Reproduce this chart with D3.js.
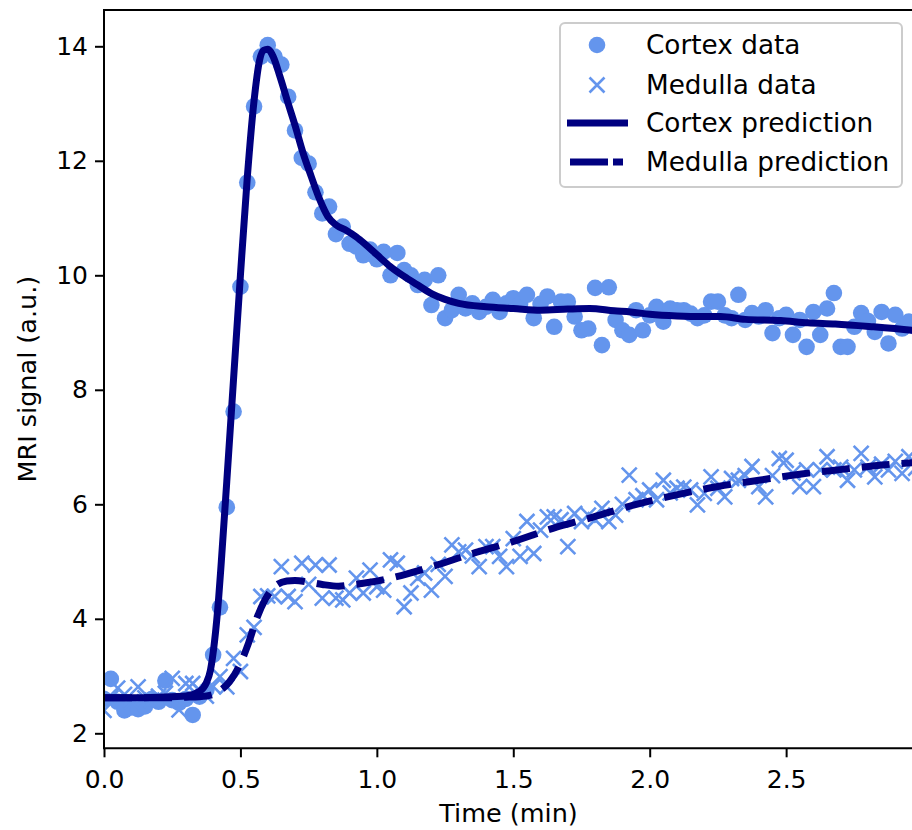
<!DOCTYPE html>
<html lang="en">
<head>
  <meta charset="UTF-8">
  <title>MRI signal</title>
  <style>
    body { margin: 0; background: #fff; }
    text { font-family: "DejaVu Sans", sans-serif; }
  </style>
</head>
<body>
  <script src="https://d3js.org/d3.v7.min.js"></script>
  <script>
    // sample times (min)
    const times = [0.000,0.025,0.050,0.075,0.100,0.125,0.150,0.175,0.200,0.225,
      0.250,0.275,0.300,0.325,0.350,0.375,0.400,0.425,0.450,0.475,
      0.500,0.525,0.550,0.575,0.600,0.625,0.650,0.675,0.700,0.725,
      0.750,0.775,0.800,0.825,0.850,0.875,0.900,0.925,0.950,0.975,
      1.000,1.025,1.050,1.075,1.100,1.125,1.150,1.175,1.200,1.225,
      1.250,1.275,1.300,1.325,1.350,1.375,1.400,1.425,1.450,1.475,
      1.500,1.525,1.550,1.575,1.600,1.625,1.650,1.675,1.700,1.725,
      1.750,1.775,1.800,1.825,1.850,1.875,1.900,1.925,1.950,1.975,
      2.000,2.025,2.050,2.075,2.100,2.125,2.150,2.175,2.200,2.225,
      2.250,2.275,2.300,2.325,2.350,2.375,2.400,2.425,2.450,2.475,
      2.500,2.525,2.550,2.575,2.600,2.625,2.650,2.675,2.700,2.725,
      2.750,2.775,2.800,2.825,2.850,2.875,2.900,2.925,2.950,2.975]

    const cortexData = [2.60,2.95,2.55,2.40,2.45,2.42,2.47,2.60,2.55,2.92,
      2.58,2.53,2.60,2.32,2.64,2.75,3.37,4.20,5.95,7.62,
      9.80,11.62,12.95,13.82,14.02,13.82,13.68,13.12,12.53,12.05,
      11.95,11.45,11.08,11.20,10.72,10.85,10.55,10.50,10.35,10.45,
      10.28,10.41,10.00,10.39,10.09,10.00,9.83,9.92,9.48,10.00,
      9.25,9.39,9.66,9.42,9.51,9.36,9.45,9.57,9.36,9.51,
      9.60,9.50,9.66,9.25,9.50,9.63,9.10,9.54,9.54,9.28,
      9.04,9.07,9.78,8.78,9.79,9.22,9.04,8.96,9.39,9.04,
      9.30,9.45,9.19,9.42,9.39,9.39,9.33,9.25,9.30,9.54,
      9.54,9.30,9.25,9.66,9.22,9.34,9.28,9.39,8.99,9.25,
      9.31,8.96,9.22,8.75,9.36,8.96,9.42,9.69,8.75,8.75,
      9.10,9.34,9.20,9.01,9.36,8.81,9.31,9.07,9.19,9.10]

    const medullaData = [2.40,2.62,2.79,2.68,2.55,2.81,2.62,2.58,2.65,2.70,
      2.96,2.41,2.87,2.87,2.75,2.65,2.82,2.99,2.81,3.31,
      3.08,3.72,3.85,4.39,4.40,4.39,4.91,4.39,4.30,4.97,
      4.60,4.94,4.36,4.94,4.36,4.33,4.45,4.71,4.45,4.85,
      4.56,4.50,5.03,4.97,4.21,4.45,4.71,4.80,4.50,4.95,
      4.74,5.29,5.17,5.20,5.10,4.91,5.26,5.26,5.09,4.91,
      5.40,5.09,5.70,5.14,5.55,5.78,5.78,5.73,5.26,5.84,
      5.70,5.81,5.73,5.93,5.70,5.81,6.00,6.51,6.08,6.15,
      6.25,6.08,6.42,6.20,6.28,6.30,6.25,5.99,6.19,6.48,
      6.28,6.13,6.45,6.42,6.50,6.66,6.31,6.13,6.50,6.80,
      6.77,6.55,6.31,6.60,6.31,6.60,6.83,6.60,6.65,6.42,
      6.60,6.89,6.65,6.48,6.70,6.60,6.75,6.54,6.83,6.63]

    // model predictions
    const cortexPredT = [0,0.1,0.2,0.3,0.35,0.375,0.39,0.405,0.42,0.43,0.45,0.475,
      0.5,0.525,0.55,0.57,0.585,0.6,0.62,0.645,0.675,0.7,0.73,0.76,0.79,0.82,0.85,
      0.89,0.925,0.96,1.0,1.05,1.1,1.15,1.2,1.25,1.3,1.4,1.5,1.6,1.7,1.78,1.87,
      1.93,2.0,2.1,2.2,2.26,2.35,2.48,2.58,2.68,2.82,2.96,3.0]
    const cortexPred = [2.62,2.62,2.63,2.65,2.73,2.88,3.1,3.6,4.35,5.0,6.4,8.2,
      10.0,11.7,13.05,13.75,13.93,13.95,13.82,13.47,13.0,12.62,12.13,11.72,11.33,11.03,10.88,
      10.78,10.67,10.53,10.36,10.15,9.98,9.83,9.68,9.58,9.51,9.45,9.42,9.39,9.41,9.42,9.38,
      9.36,9.32,9.29,9.28,9.28,9.23,9.21,9.17,9.15,9.1,9.04,9.02]

    const medullaPredT = [0,0.2,0.3,0.35,0.4,0.43,0.46,0.5,0.53,0.56,0.59,0.63,0.67,
      0.7,0.75,0.8,0.86,0.9,0.95,1.05,1.2,1.35,1.5,1.645,1.795,1.944,2.094,2.25,
      2.4,2.556,2.706,2.862,3.0]
    const medullaPred = [2.62,2.62,2.63,2.64,2.68,2.76,2.9,3.22,3.58,4.01,4.33,4.58,4.66,
      4.67,4.64,4.6,4.57,4.59,4.62,4.71,4.91,5.14,5.35,5.58,5.78,5.99,6.16,6.31,
      6.42,6.53,6.61,6.69,6.74]

    const xTicks = [0, 0.5, 1.0, 1.5, 2.0, 2.5]
    const yTicks = [2, 4, 6, 8, 10, 12, 14]
    const legendLabels = ['Cortex data', 'Medulla data', 'Cortex prediction', 'Medulla prediction']

    const width = 912, height = 830
    const plotLeft = 104, plotTop = 10, plotBottom = 748.3, plotRight = 913
    const lightBlue = '#6495ed', navy = '#000080'

    const x = d3.scaleLinear().domain([0, 2.965]).range([plotLeft, plotRight])
    const y = d3.scaleLinear().domain([1.738, 14.634]).range([plotBottom, plotTop])

    const svg = d3.select('body').append('svg')
      .attr('width', width)
      .attr('height', height)

    svg.append('clipPath').attr('id', 'plot')
      .append('rect')
      .attr('x', plotLeft).attr('y', plotTop)
      .attr('width', plotRight - plotLeft).attr('height', plotBottom - plotTop)

    const plot = svg.append('g').attr('clip-path', 'url(#plot)')

    // cortex data
    plot.selectAll('circle.cortex')
      .data(times.map((t, i) => [t, cortexData[i]]))
      .enter()
      .append('circle')
      .attr('class', 'cortex')
      .attr('cx', d => x(d[0]))
      .attr('cy', d => y(d[1]))
      .attr('r', 8.3)
      .attr('fill', lightBlue)

    // medulla data
    const s = 7.5
    plot.selectAll('path.medulla')
      .data(times.map((t, i) => [t, medullaData[i]]))
      .enter()
      .append('path')
      .attr('class', 'medulla')
      .attr('d', d => {
        const cx = x(d[0]), cy = y(d[1])
        return `M${cx - s},${cy - s}L${cx + s},${cy + s}M${cx - s},${cy + s}L${cx + s},${cy - s}`
      })
      .attr('stroke', lightBlue)
      .attr('stroke-width', 2.6)
      .attr('fill', 'none')

    const line = d3.line()
      .x(d => x(d[0]))
      .y(d => y(d[1]))
      .curve(d3.curveMonotoneX)

    plot.append('path')
      .datum(cortexPredT.map((t, i) => [t, cortexPred[i]]))
      .attr('d', line)
      .attr('stroke', navy)
      .attr('stroke-width', 7)
      .attr('stroke-linejoin', 'round')
      .attr('fill', 'none')

    plot.append('path')
      .datum(medullaPredT.map((t, i) => [t, medullaPred[i]]))
      .attr('d', line)
      .attr('stroke', navy)
      .attr('stroke-width', 7)
      .attr('stroke-dasharray', '28,12')
      .attr('stroke-linejoin', 'round')
      .attr('fill', 'none')

    // axes
    const xAxis = svg.append('g')
      .attr('transform', `translate(0,${plotBottom})`)
      .call(d3.axisBottom(x).tickValues(xTicks).tickFormat(d3.format('.1f'))
        .tickSize(9).tickPadding(13).tickSizeOuter(0))
    const yAxis = svg.append('g')
      .attr('transform', `translate(${plotLeft},0)`)
      .call(d3.axisLeft(y).tickValues(yTicks).tickFormat(d3.format('d'))
        .tickSize(9).tickPadding(7).tickSizeOuter(0))

    ;[xAxis, yAxis].forEach(a => {
      a.select('.domain').remove()
      a.selectAll('line').attr('stroke', '#000').attr('stroke-width', 2)
      a.selectAll('text')
        .attr('fill', '#000')
        .style('font-size', '25px')
        .style('font-family', '"DejaVu Sans", sans-serif')
    })

    // spines
    svg.append('path')
      .attr('d', `M${plotRight},${plotTop}H${plotLeft}V${plotBottom}H${plotRight}`)
      .attr('stroke', '#000')
      .attr('stroke-width', 2)
      .attr('fill', 'none')

    svg.append('text')
      .attr('x', (plotLeft + plotRight) / 2)
      .attr('y', 822)
      .attr('text-anchor', 'middle')
      .style('font-size', '25.5px')
      .text('Time (min)')

    svg.append('text')
      .attr('transform', `translate(36,${(plotTop + plotBottom) / 2}) rotate(-90)`)
      .attr('text-anchor', 'middle')
      .style('font-size', '25.5px')
      .text('MRI signal (a.u.)')

    // legend
    const lg = svg.append('g')
    lg.append('rect')
      .attr('x', 560).attr('y', 23)
      .attr('width', 342).attr('height', 164)
      .attr('rx', 5)
      .attr('fill', 'white')
      .attr('fill-opacity', 0.8)
      .attr('stroke', '#cccccc')
      .attr('stroke-width', 2)

    const rowY = [45, 85, 123, 162]
    lg.append('circle').attr('cx', 597).attr('cy', rowY[0]).attr('r', 8.3).attr('fill', lightBlue)
    lg.append('path')
      .attr('d', `M${597 - s},${rowY[1] - s}L${597 + s},${rowY[1] + s}M${597 - s},${rowY[1] + s}L${597 + s},${rowY[1] - s}`)
      .attr('stroke', lightBlue).attr('stroke-width', 2.6)
    lg.append('line')
      .attr('x1', 567).attr('x2', 628).attr('y1', rowY[2]).attr('y2', rowY[2])
      .attr('stroke', navy).attr('stroke-width', 7)
    lg.append('line')
      .attr('x1', 570).attr('x2', 623).attr('y1', rowY[3]).attr('y2', rowY[3])
      .attr('stroke', navy).attr('stroke-width', 7)
      .attr('stroke-dasharray', '38,5,10,10')

    lg.selectAll('text.lab')
      .data(legendLabels)
      .enter()
      .append('text')
      .attr('class', 'lab')
      .attr('x', 646)
      .attr('y', (d, i) => rowY[i])
      .attr('dy', '0.35em')
      .style('font-size', '26.3px')
      .text(d => d)
  </script>
</body>
</html>
